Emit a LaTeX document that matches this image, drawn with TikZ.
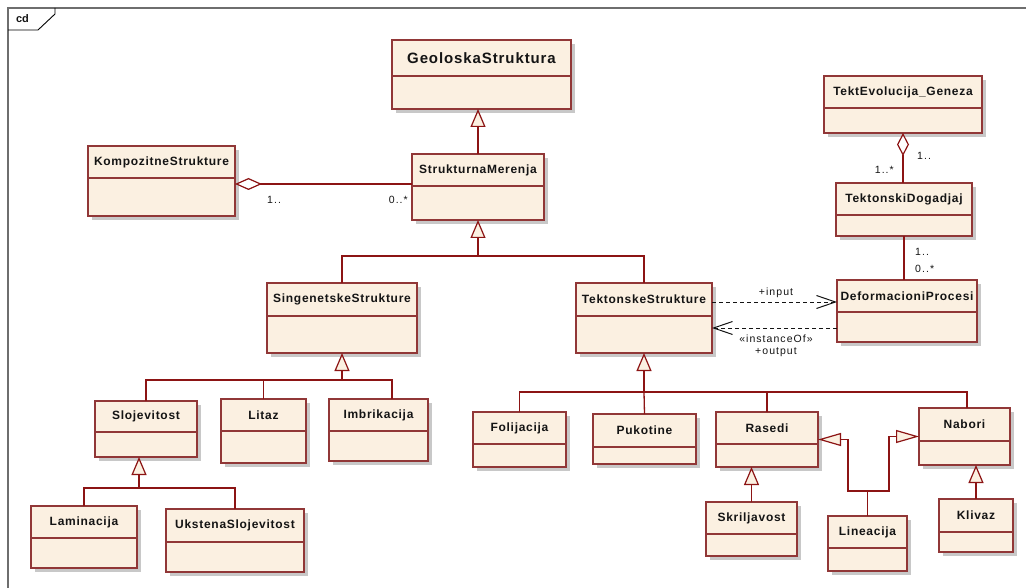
\documentclass[tikz,border=0pt]{standalone}
\usepackage{fontspec}
\setmainfont{Liberation Sans}
\newfontfamily\clsfont[LetterSpace=6]{Liberation Sans}
\newfontfamily\lblfont[LetterSpace=10]{Liberation Sans}
\usetikzlibrary{arrows.meta}
\definecolor{clsfill}{RGB}{251,240,225}
\definecolor{clsdraw}{RGB}{145,55,55}
\definecolor{conn}{RGB}{140,20,20}
\definecolor{framec}{RGB}{110,110,110}
\definecolor{shadowc}{RGB}{200,200,200}
\definecolor{txt}{RGB}{20,20,20}
\tikzset{
  clsshadow/.style={fill=shadowc},
  clsbox/.style={draw=clsdraw, fill=clsfill, line width=1.2pt, inner sep=0pt, outer sep=0pt},
  clsline/.style={draw=clsdraw, line width=1.2pt},
  clsname/.style={font=\clsfont\bfseries\fontsize{12}{14}\selectfont, text=txt, inner sep=0pt},
  conline/.style={draw=conn, line width=1.3pt},
  gen/.style={conline, -{Triangle[open, fill=clsfill, length=18pt, width=15pt, line width=1.2pt]}},
  genh/.style={conline, -{Triangle[open, fill=clsfill, length=23pt, width=13pt, line width=1.2pt]}},
  agg/.style={conline, {Diamond[open, fill=white, length=27pt, width=12pt, line width=1.2pt]}-},
  aggv/.style={conline, {Diamond[open, fill=white, length=23pt, width=12pt, line width=1.2pt]}-},
  dep/.style={draw=txt, line width=0.9pt, dash pattern=on 4pt off 3pt, -{Straight Barb[length=19pt, width=13pt, line width=1pt]}},
  lbl/.style={font=\lblfont\fontsize{10.5}{12}\selectfont, text=txt, inner sep=0pt},
}
\newcommand\umlcls[7]{%
  \fill[clsshadow] ({#3+4},{#4+4}) rectangle ({#5+4},{#6+4});
  \node[clsbox, minimum width={(#5-#3)*1pt}, minimum height={(#6-#4)*1pt}] (#1) at ({(#3+#5)/2},{(#4+#6)/2}) {};
  \draw[clsline] (#3,#7) -- (#5,#7);
  \node[clsname] (#1-t) at ({(#3+#5)/2},{(#4+#7)/2}) {#2};
}
\begin{document}
\begin{tikzpicture}[x=1pt, y=-1pt]
\useasboundingbox (0,0) rectangle (1026,588);
\fill[white] (0,0) rectangle (1026,588);
% frame
\draw[framec, line width=2pt] (8,590) -- (8,8) -- (1028,8);
\draw[black, line width=0.9pt] (8,30) -- (38,30) -- (55,14) -- (55,8);
\node[font=\bfseries\fontsize{11}{12}\selectfont, text=txt, inner sep=0pt] (cd) at (22.5,19) {cd};
% classes
\umlcls{GS}{\fontsize{15}{17}\selectfont GeoloskaStruktura}{392}{40}{571}{109}{76}
\umlcls{SM}{StrukturnaMerenja}{412}{154}{544}{220}{186}
\umlcls{KS}{KompozitneStrukture}{88}{146}{235}{216}{178}
\umlcls{TE}{TektEvolucija\_Geneza}{824}{76}{982}{133}{108}
\umlcls{TD}{TektonskiDogadjaj}{836}{183}{972}{236}{215}
\umlcls{DP}{DeformacioniProcesi}{837}{280}{977}{342}{312}
\umlcls{TS}{TektonskeStrukture}{576}{283}{712}{353}{316}
\umlcls{SS}{SingenetskeStrukture}{267}{283}{417}{353}{316}
\umlcls{Slo}{Slojevitost}{95}{401}{197}{457}{432}
\umlcls{Lit}{Litaz}{221}{399}{306}{463}{431}
\umlcls{Imb}{Imbrikacija}{329}{399}{428}{461}{431}
\umlcls{Lam}{Laminacija}{31}{506}{137}{568}{538}
\umlcls{Uks}{UkstenaSlojevitost}{166}{509}{304}{572}{542}
\umlcls{Fol}{Folijacija}{473}{412}{566}{467}{444}
\umlcls{Puk}{Pukotine}{593}{414}{696}{464}{447}
\umlcls{Ras}{Rasedi}{716}{412}{818}{467}{444}
\umlcls{Nab}{Nabori}{919}{408}{1010}{465}{441}
\umlcls{Skr}{Skriljavost}{706}{502}{797}{556}{534}
\umlcls{Lin}{Lineacija}{828}{516}{907}{571}{548}
\umlcls{Kli}{Klivaz}{939}{499}{1013}{552}{532}
% generalizations
\draw[gen] (SM.north) -- (SM.north |- GS.south);
\coordinate (b1) at (478,256);
\draw[conline] (SS.north) |- (b1);
\draw[conline] (TS.north) |- (b1);
\draw[gen] (b1) -- (b1 |- SM.south);
\coordinate (b2) at (342,380);
\coordinate (b2i) at (392,399);
\draw[conline] (Slo.north) |- (b2);
\draw[conline] (Lit.north) |- (b2);
\draw[conline] (b2i) |- (b2);
\draw[gen] (b2) -- (b2 |- SS.south);
\coordinate (b3) at (139,488);
\draw[conline] (Lam.north) |- (b3);
\draw[conline] (Uks.north) |- (b3);
\draw[gen] (b3) -- (b3 |- Slo.south);
\coordinate (b4) at (644,392);
\coordinate (b4n) at (967,408);
\draw[conline] (Fol.north) |- (b4);
\draw[conline] (Puk.north) -- (b4);
\draw[conline] (Ras.north) |- (b4);
\draw[conline] (b4n) |- (b4);
\draw[gen] (b4) -- (b4 |- TS.south);
\draw[gen] (Skr.north) -- (Skr.north |- Ras.south);
\draw[gen] (Kli.north) -- (Kli.north |- Nab.south);
\coordinate (b5) at (867.5,491);
\coordinate (b5l) at (848,491);
\coordinate (b5r) at (889,491);
\draw[conline] (Lin.north) -- (b5);
\draw[genh] (b5) -- (b5l) |- (Ras.east);
\draw[genh] (b5) -- (b5r) |- (Nab.west);
% aggregations / associations
\coordinate (a1) at (0,184);
\draw[agg] (KS.east |- a1) -- (SM.west |- a1);
\node[lbl, anchor=west] (m1) at (267,200) {1..};
\node[lbl, anchor=east] (m2) at (408,200) {0..*};
\draw[aggv] (TE.south) -- (TE.south |- TD.north);
\node[lbl, anchor=west] (m3) at (917,156) {1..};
\node[lbl, anchor=east] (m4) at (894,170) {1..*};
\draw[conline] (TD.south) -- (TD.south |- DP.north);
\node[lbl, anchor=west] (m5) at (915,252) {1..};
\node[lbl, anchor=west] (m6) at (915,269) {0..*};
% dependencies
\coordinate (d1) at (0,302);
\coordinate (d2) at (0,328);
\draw[dep] (TS.east |- d1) -- (DP.west |- d1);
\draw[dep] (DP.west |- d2) -- (TS.east |- d2);
\node[lbl] (l1) at (776,293) {+input};
\node[lbl] (l2) at (776,339) {«instanceOf»};
\node[lbl] (l3) at (776,352) {+output};
\end{tikzpicture}
\end{document}
